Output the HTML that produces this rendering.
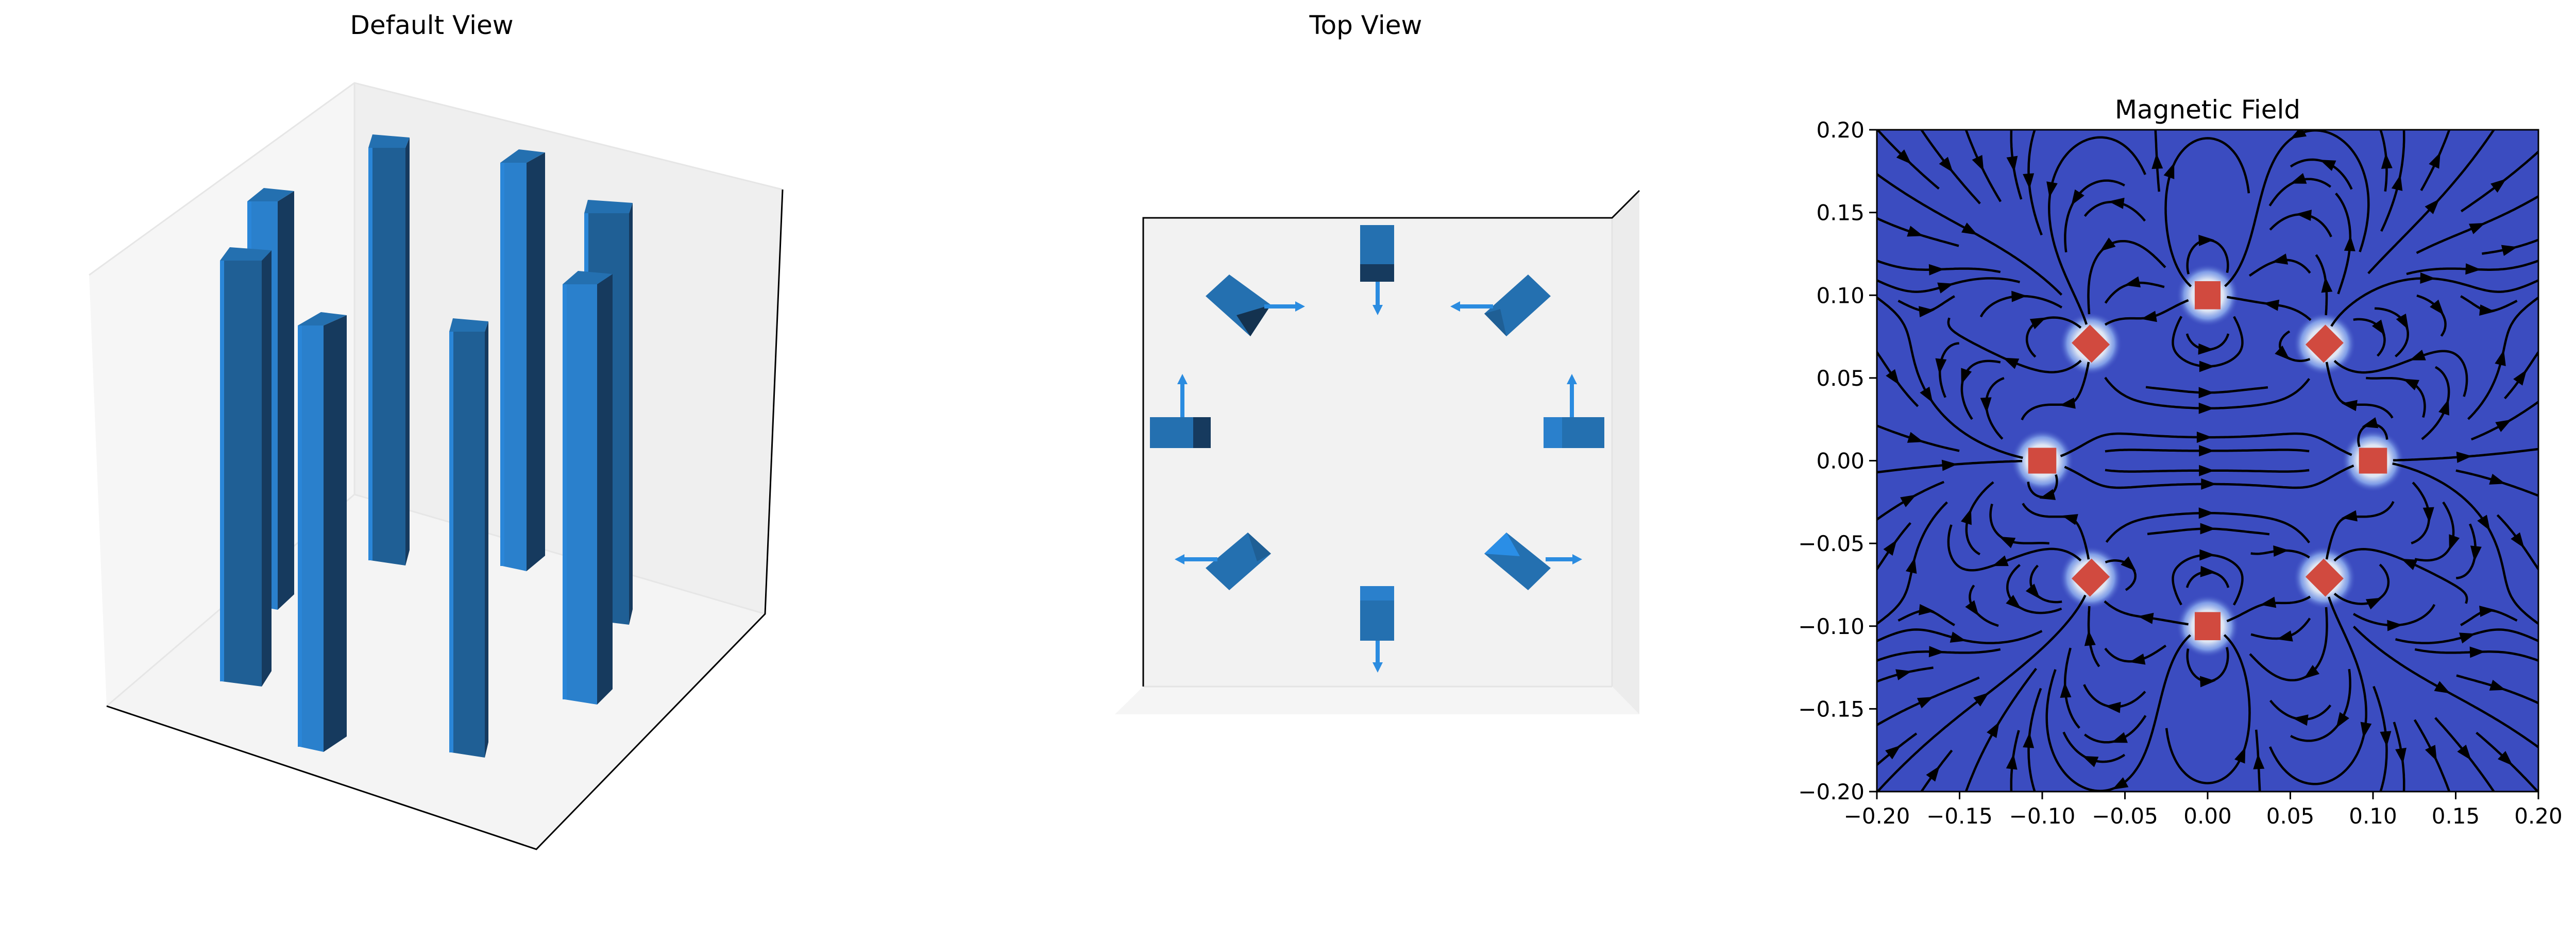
<!DOCTYPE html>
<html><head><meta charset="utf-8">
<style>
html,body{margin:0;padding:0;background:#fff;}
svg text{font-family:"DejaVu Sans","Liberation Sans",sans-serif;fill:#000;}
</style></head>
<body>
<svg id="fig" width="5329" height="1793" viewBox="0 0 5329 1793" xmlns="http://www.w3.org/2000/svg">
<defs>
<radialGradient id="halo">
<stop offset="0%" stop-color="#f0ece9"/>
<stop offset="50%" stop-color="#dfe6f3"/>
<stop offset="75%" stop-color="#8fb0f0" stop-opacity="0.8"/>
<stop offset="100%" stop-color="#3b4cc0" stop-opacity="0"/>
</radialGradient>
<clipPath id="plotclip"><rect x="3643" y="252" width="1284" height="1285"/></clipPath>
</defs>

<g>
<text x="838" y="66" font-size="50" text-anchor="middle">Default View</text>
<polygon points="173,534 688,161 688,960 207,1371" fill="#f6f6f6"/>
<polygon points="688,161 1519,368 1485,1192 688,960" fill="#efefef"/>
<polygon points="688,960 207,1371 1041,1649 1485,1192" fill="#f4f4f4"/>
<polyline points="173,534 688,161 1519,368" fill="none" stroke="#e6e6e6" stroke-width="3"/>
<line x1="688" y1="161" x2="688" y2="960" stroke="#e6e6e6" stroke-width="3"/>
<polyline points="207,1371 688,960 1485,1192" fill="none" stroke="#e6e6e6" stroke-width="3"/>
<polyline points="207,1371 1041,1649 1485,1192 1519,368" fill="none" stroke="#000" stroke-width="3"/>
<g id="bars3d"></g>
</g>

<g>
<text x="2651" y="66" font-size="50" text-anchor="middle">Top View</text>
<rect x="2219" y="423" width="910" height="910" fill="#f2f2f2"/>
<polygon points="3129,423 3182,370 3182,1387 3129,1333" fill="#ececec"/>
<polygon points="2219,1333 2164,1387 3182,1387 3129,1333" fill="#f5f5f5"/>
<line x1="2219" y1="1333" x2="3129" y2="1333" stroke="#e4e4e4" stroke-width="3"/>
<line x1="3129" y1="423" x2="3129" y2="1333" stroke="#e4e4e4" stroke-width="3"/>
<polyline points="2219,1333 2219,423 3129,423 3182,370" fill="none" stroke="#000" stroke-width="3"/>
<g>
<rect x="2640" y="437" width="66" height="76" fill="#2470b0"/><rect x="2640" y="513" width="66" height="34" fill="#163a5e"/>
<rect x="2640" y="1138" width="66" height="28" fill="#2a80cc"/><rect x="2640" y="1166" width="66" height="78" fill="#2470b0"/>
<rect x="2232" y="810" width="84" height="60" fill="#2470b0"/><rect x="2316" y="810" width="34" height="60" fill="#163a5e"/>
<rect x="2996" y="810" width="36" height="60" fill="#2a80cc"/><rect x="3032" y="810" width="82" height="60" fill="#2470b0"/>
<polygon points="2386,533 2467,592 2427,653 2340,575" fill="#2470b0"/><polygon points="2467,592 2427,653 2400,612" fill="#14324f"/>
<polygon points="2966,533 3010,575 2924,653 2881,609" fill="#2470b0"/><polygon points="2881,609 2924,653 2912,600" fill="#1f5f95"/>
<polygon points="2422,1034 2467,1075 2386,1146 2340,1103" fill="#2470b0"/><polygon points="2422,1034 2467,1075 2440,1090" fill="#1f5f95"/>
<polygon points="2924,1034 3010,1103 2966,1146 2881,1075" fill="#2470b0"/><polygon points="2924,1034 2881,1075 2950,1080" fill="#2a8ee6"/>
</g>
<g stroke="#2b8ce0" stroke-width="8" fill="#2b8ce0">
<line x1="2674" y1="547" x2="2674" y2="600"/><polygon points="2664,592 2684,592 2674,612" stroke="none"/>
<line x1="2674" y1="1244" x2="2674" y2="1294"/><polygon points="2664,1286 2684,1286 2674,1306" stroke="none"/>
<line x1="2295" y1="810" x2="2295" y2="738"/><polygon points="2285,746 2305,746 2295,726" stroke="none"/>
<line x1="3051" y1="810" x2="3051" y2="738"/><polygon points="3041,746 3061,746 3051,726" stroke="none"/>
<line x1="2454" y1="595" x2="2520" y2="595"/><polygon points="2514,585 2514,605 2533,595" stroke="none"/>
<line x1="2898" y1="595" x2="2828" y2="595"/><polygon points="2834,585 2834,605 2815,595" stroke="none"/>
<line x1="2363" y1="1086" x2="2293" y2="1086"/><polygon points="2299,1076 2299,1096 2280,1086" stroke="none"/>
<line x1="3000" y1="1086" x2="3058" y2="1086"/><polygon points="3052,1076 3052,1096 3071,1086" stroke="none"/>
</g>
</g>

<g>
<text x="4285" y="230" font-size="50" text-anchor="middle">Magnetic Field</text>
<g clip-path="url(#plotclip)">
<rect x="3643" y="252" width="1284" height="1285" fill="#3b4cc0"/>
<g id="magnets2d"></g>
<g id="streams"></g>
</g>
<rect x="3643" y="252" width="1284" height="1285" fill="none" stroke="#000" stroke-width="3"/>
<g id="xticks"></g><g id="yticks"></g>
<g id="cbar"></g>
<text x="0" y="0" font-size="42" text-anchor="middle" transform="translate(5308,893) rotate(-90)">|B| [T]</text>
</g>
</svg>
<script>
// ===== data =====
const magnetX = [0.1, 0.0707, 0, -0.0707, -0.1, -0.0707, 0, 0.0707];
const magnetY = [0, 0.0707, 0.1, 0.0707, 0, -0.0707, -0.1, -0.0707];
const magnetAngleDeg = [0, 45, 90, 135, 180, 225, 270, 315];
const magnetizationDeg = [0, 90, 180, 270, 0, 90, 180, 270];
const axisTicks = [-0.20, -0.15, -0.10, -0.05, 0.00, 0.05, 0.10, 0.15, 0.20];
const axisTickLabels = ["\u22120.20","\u22120.15","\u22120.10","\u22120.05","0.00","0.05","0.10","0.15","0.20"];
const cbarTicks = [0, 0.125, 0.25, 0.375, 0.5, 0.625, 0.75, 0.875, 1.0];
const cbarTickLabels = ["0.000","0.125","0.250","0.375","0.500","0.625","0.750","0.875","1.000"];
const cbarMax = 1.075;
const cbarStep = 0.025;

const NS = "http://www.w3.org/2000/svg";
function mk(tag, attrs, parent){const e=document.createElementNS(NS,tag);for(const k in attrs)e.setAttribute(k,attrs[k]);parent.appendChild(e);return e;}

const barsG = document.getElementById('bars3d');
const bars = [
 [480,539,571,391,1184,'#2a80cc'],
 [715,787,795,287,1098,'#1f5f95'],
 [971,1022,1058,316,1109,'#2a80cc'],
 [1134,1221,1228,414,1213,'#1f5f95'],
 [427,508,527,506,1333,'#1f5f95'],
 [578,628,673,632,1460,'#2a80cc'],
 [872,941,948,644,1471,'#1f5f95'],
 [1092,1159,1189,552,1368,'#2a80cc']
];
bars.forEach((b,i)=>{
  const [x0,x1,x2,yt,yb,c]=b;
  const g=mk('g',{},barsG);
  
  
  mk('polygon',{points:`${x1},${yt} ${x2},${yt-20} ${x2},${yb-30} ${x1},${yb}`,fill:'#163a5e'},g);
  mk('polygon',{points:`${x0},${yt} ${x1},${yt} ${x1},${yb} ${x0+4},${yb-10}`,fill:c},g);
  mk('rect',{x:x0,y:yt,width:8,height:yb-yt-10,fill:'#2a86d8'},g);
  mk('polygon',{points:`${x0},${yt} ${x1},${yt} ${x2},${yt-20} ${x0+(x2-x1)},${yt-26}`,fill:'#2470b0'},g);
});

const PX0=3643, PX1=4927, PY0=252, PY1=1537;
const px = v => PX0 + (v+0.2)/0.4*(PX1-PX0);
const py = v => PY1 - (v+0.2)/0.4*(PY1-PY0);
const mg = document.getElementById('magnets2d');
const S = (PX1-PX0)/0.4;
for(let i=0;i<magnetX.length;i++){
  const cx=px(magnetX[i]), cy=py(magnetY[i]);
  const h=mk('circle',{cx:cx,cy:cy,r:0.019*S,fill:'url(#halo)'},mg);
  
  
  const hw=0.0085*S, hh=0.0078*S;
  const r=mk('rect',{x:cx-hw,y:cy-hh,width:2*hw,height:2*hh,fill:'#d14a3f',transform:`rotate(${-magnetAngleDeg[i]},${cx},${cy})`},mg);
  
  
}
const mvx = magnetizationDeg.map(a=>Math.cos(a*Math.PI/180));
const mvy = magnetizationDeg.map(a=>Math.sin(a*Math.PI/180));
function field(x,y){
  let bx=0,by=0;
  for(let i=0;i<magnetX.length;i++){
    const dx=x-magnetX[i], dy=y-magnetY[i];
    const r2=dx*dx+dy*dy, r=Math.sqrt(r2);
    const rx=dx/r, ry=dy/r, md=mvx[i]*rx+mvy[i]*ry, f=1/(r2*r);
    bx+=(3*md*rx-mvx[i])*f; by+=(3*md*ry-mvy[i])*f;
  }
  return [bx,by];
}
function nearMagnet(x,y){for(let i=0;i<magnetX.length;i++){const dx=x-magnetX[i],dy=y-magnetY[i];if(dx*dx+dy*dy<0.011*0.011)return true;}return false;}
const N=32, occ=new Uint8Array(N*N);
const cellOf=(x,y)=>{const i=Math.floor((x+0.2)/0.4*N), j=Math.floor((y+0.2)/0.4*N);return (i<0||j<0||i>=N||j>=N)?-1:j*N+i;};
function trace(x0,y0,dir,marked){
  const pts=[[x0,y0]]; let x=x0,y=y0, last=cellOf(x,y), h=0.0013;
  for(let s=0;s<2000;s++){
    let [bx,by]=field(x,y); let n=Math.hypot(bx,by); if(!n)break;
    const xm=x+0.5*dir*h*bx/n, ym=y+0.5*dir*h*by/n;
    [bx,by]=field(xm,ym); n=Math.hypot(bx,by); if(!n)break;
    x+=dir*h*bx/n; y+=dir*h*by/n;
    if(x<-0.2||x>0.2||y<-0.2||y>0.2){pts.push([x,y]);break;}
    if(nearMagnet(x,y))break;
    const c=cellOf(x,y);
    if(c!==last){ if(occ[c])break; occ[c]=1; marked.push(c); last=c; }
    pts.push([x,y]);
  }
  return pts;
}
const seeds=[];
{let l=0,r=N-1,t=0,b=N-1;
 while(l<=r&&t<=b){
  for(let i=l;i<=r;i++)seeds.push([i,t]);
  for(let j=t+1;j<=b;j++)seeds.push([r,j]);
  if(t<b)for(let i=r-1;i>=l;i--)seeds.push([i,b]);
  if(l<r)for(let j=b-1;j>t;j--)seeds.push([l,j]);
  l++;r--;t++;b--;}}
const sg=document.getElementById('streams');
for(const [i,j] of seeds){
  const c=j*N+i; if(occ[c])continue;
  const x0=-0.2+(i+0.5)*0.4/N, y0=-0.2+(j+0.5)*0.4/N;
  if(nearMagnet(x0,y0))continue;
  occ[c]=1; const marked=[c];
  const back=trace(x0,y0,-1,marked), fwd=trace(x0,y0,1,marked);
  const pts=back.reverse().concat(fwd.slice(1));
  let len=0; for(let k=1;k<pts.length;k++)len+=Math.hypot(pts[k][0]-pts[k-1][0],pts[k][1]-pts[k-1][1]);
  if(len<0.03){marked.forEach(m=>occ[m]=0);continue;}
  const d=pts.map((p,k)=>(k?'L':'M')+px(p[0]).toFixed(1)+','+py(p[1]).toFixed(1)).join('');
  const path=mk('path',{d:d,fill:'none',stroke:'#000','stroke-width':4.5},sg);
  
  
  let acc=0,k=1; for(;k<pts.length;k++){acc+=Math.hypot(pts[k][0]-pts[k-1][0],pts[k][1]-pts[k-1][1]); if(acc>=len/2)break;}
  k=Math.min(k,pts.length-1);
  const ax=px(pts[k][0]), ay=py(pts[k][1]);
  const dx=px(pts[k][0])-px(pts[k-1][0]), dy=py(pts[k][1])-py(pts[k-1][1]);
  const ang=Math.atan2(dy,dx)*180/Math.PI;
  const a=mk('polygon',{points:'12,0 -18,-11 -18,11',fill:'#000',transform:`translate(${ax.toFixed(1)},${ay.toFixed(1)}) rotate(${ang.toFixed(1)})`},sg);
  
  
}

const xt=document.getElementById('xticks'), yt=document.getElementById('yticks');
axisTicks.forEach((v,i)=>{
  const X=px(v);
  const l=mk('line',{x1:X,y1:PY1,x2:X,y2:PY1+15,stroke:'#000','stroke-width':3},xt);
  
  
  const t=mk('text',{x:X,y:PY1+62,'font-size':42,'text-anchor':'middle'},xt); t.textContent=axisTickLabels[i];
  
  
  const Y=py(v);
  const l2=mk('line',{x1:PX0-15,y1:Y,x2:PX0,y2:Y,stroke:'#000','stroke-width':3},yt);
  
  
  const t2=mk('text',{x:PX0-24,y:Y+15,'font-size':42,'text-anchor':'end'},yt); t2.textContent=axisTickLabels[i];
  
  
});

const CB_X0=5007, CB_X1=5091, CB_Y0=53, CB_Y1=1738;
const cy=v=>CB_Y1-v/cbarMax*(CB_Y1-CB_Y0);
const anchors=[[0,[59,76,192]],[0.25,[124,159,249]],[0.5,[221,221,221]],[0.75,[244,154,123]],[1,[180,4,38]]];
function coolwarm(t){for(let k=1;k<anchors.length;k++){if(t<=anchors[k][0]){const [t0,c0]=anchors[k-1],[t1,c1]=anchors[k];const f=(t-t0)/(t1-t0);return 'rgb('+c0.map((c,m)=>Math.round(c+(c1[m]-c)*f)).join(',')+')';}}return 'rgb(180,4,38)';}
const cb=document.getElementById('cbar');
const nb=Math.round(cbarMax/cbarStep);
for(let k=0;k<nb;k++){
  const v0=k*cbarStep, v1=Math.min((k+1)*cbarStep,cbarMax);
  const r=mk('rect',{x:CB_X0,y:cy(v1),width:CB_X1-CB_X0,height:cy(v0)-cy(v1)+0.8,fill:coolwarm((v0+v1)/2/cbarMax)},cb);
  
  
}
const fr=mk('rect',{x:CB_X0,y:CB_Y0,width:CB_X1-CB_X0,height:CB_Y1-CB_Y0,fill:'none',stroke:'#000','stroke-width':3},cb);


cbarTicks.forEach((v,i)=>{
  const Y=cy(v);
  const l=mk('line',{x1:CB_X1,y1:Y,x2:CB_X1+15,y2:Y,stroke:'#000','stroke-width':3},cb);
  
  
  const t=mk('text',{x:CB_X1+24,y:Y+15,'font-size':42},cb); t.textContent=cbarTickLabels[i];
  
  
});
</script>
</body></html>
